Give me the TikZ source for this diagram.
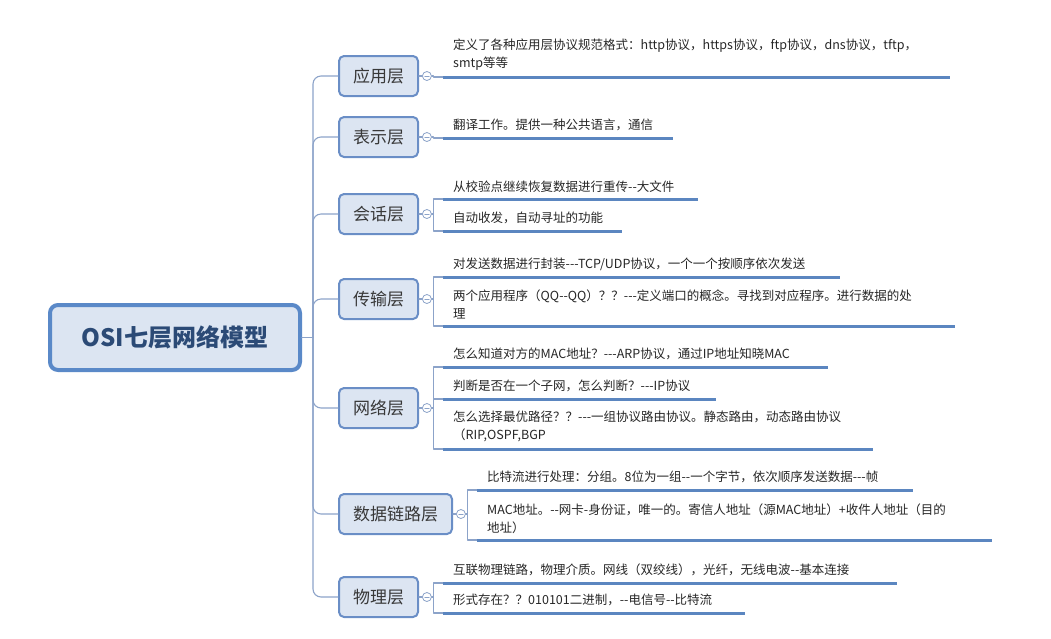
\documentclass[tikz,border=0pt]{standalone}
\usepackage{fontspec}
\setmainfont{Noto Sans CJK SC}[Ligatures=TeXOff]
\usetikzlibrary{positioning}
\definecolor{boxline}{HTML}{6A8EC6}
\definecolor{boxfill}{HTML}{DCE5F2}
\definecolor{rootline}{HTML}{5A89C8}
\definecolor{roottext}{HTML}{2B4A76}
\definecolor{twigline}{HTML}{8CA3C9}
\definecolor{ulinec}{HTML}{5B86C0}
\definecolor{leaftext}{HTML}{262626}
\begin{document}
\begin{tikzpicture}[x=1pt, y=-1pt, line cap=round, line join=round,
	layer/.style={draw=boxline, fill=boxfill, line width=2pt, rounded corners=5pt, minimum width=79pt, minimum height=40pt, inner sep=0pt, text=black!78, font=\fontsize{17}{20}\selectfont},
	fold/.style={circle, draw=twigline, fill=white, line width=0.8pt, minimum size=9pt, inner sep=0pt,
		path picture={\draw[twigline, line width=0.8pt] ([xshift=2.3pt]path picture bounding box.west)--([xshift=-2.3pt]path picture bounding box.east);}},
	twig/.style={draw=twigline, line width=1.1pt},
	leaf/.style={anchor=south west, inner xsep=10pt, inner ysep=6.5pt, align=left, text=leaftext, font=\fontsize{12.5}{18}\selectfont, text width=#1},
	uline/.style={draw=ulinec, line width=3pt, line cap=butt}]
		\useasboundingbox (0,0) rectangle (1051,638);
		% root and layers
		\node[draw=rootline, fill=boxfill, line width=4pt, rounded corners=8pt, minimum width=250pt, minimum height=65pt, text=roottext, font=\bfseries\fontsize{24}{28}\selectfont] (osi) at (175,337.5) {OSI七层网络模型};
		\node[layer] (app) at (378.5,76) {应用层};
		\node[layer] (pres) at (378.5,137) {表示层};
		\node[layer] (sess) at (378.5,214) {会话层};
		\node[layer] (trans) at (378.5,299) {传输层};
		\node[layer] (net) at (378.5,408) {网络层};
		\node[layer, minimum width=113pt] (link) at (395.5,514) {数据链路层};
		\node[layer] (phys) at (378.5,597) {物理层};
		\coordinate (trunk) at (313,337.5);
		\draw[twig] (osi.east)--(trunk);
		\foreach \n in {app,pres,sess,trans,net,link,phys}{
			\draw[twig, rounded corners=8pt] (trunk) |- (\n.west);
			\node[fold, right=3pt of \n] (\n x) {};
			\draw[twig] (\n.east)--(\n x.west);
		}
		% leaves
		\node[leaf=487pt] (app1) at (443,77) {定义了各种应用层协议规范格式：http协议，https协议，ftp协议，dns协议，tftp，\\smtp等等};
		\node[leaf=210pt] (pres1) at (443,138) {翻译工作。提供一种公共语言，通信};
		\node[leaf=235pt] (sess1) at (443,199) {从校验点继续恢复数据进行重传--大文件};
		\node[leaf=159pt] (sess2) at (443,231) {自动收发，自动寻址的功能};
		\node[leaf=377pt] (trans1) at (443,277) {对发送数据进行封装---TCP/UDP协议，一个一个按顺序依次发送};
		\node[leaf=492pt] (trans2) at (443,326) {两个应用程序（QQ--QQ）？？---定义端口的概念。寻找到对应程序。进行数据的处\\理};
		\node[leaf=365pt] (net1) at (443,367) {怎么知道对方的MAC地址？---ARP协议，通过IP地址知晓MAC};
		\node[leaf=253pt] (net2) at (443,399) {判断是否在一个子网，怎么判断？---IP协议};
		\node[leaf=410pt] (net3) at (443,449) {怎么选择最优路径？？---一组协议路由协议。静态路由，动态路由协议\\（RIP,OSPF,BGP};
		\node[leaf=416pt] (link1) at (477,490) {比特流进行处理：分组。8位为一组--一个字节，依次顺序发送数据---帧};
		\node[leaf=495pt] (link2) at (477,540) {MAC地址。--网卡-身份证，唯一的。寄信人地址（源MAC地址）+收件人地址（目的\\地址）};
		\node[leaf=434pt] (phys1) at (443,583) {互联物理链路，物理介质。网线（双绞线），光纤，无线电波--基本连接};
		\node[leaf=282pt] (phys2) at (443,613) {形式存在？？010101二进制，--电信号--比特流};
		\foreach \n/\l in {app/app1, pres/pres1, sess/sess1, sess/sess2, trans/trans1, trans/trans2, net/net1, net/net2, net/net3, link/link1, link/link2, phys/phys1, phys/phys2}{
			\draw[twig] (\n x.east)--++(1.5,0) |- (\l.south west);
			\draw[uline] (\l.south west)--(\l.south east);
		}
\end{tikzpicture}
\end{document}
